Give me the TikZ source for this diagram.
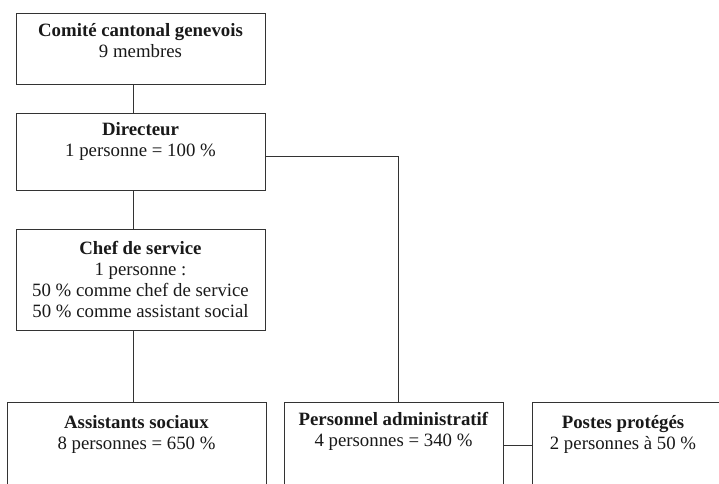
\documentclass[tikz,border=0pt]{standalone}
\usepackage{fontspec}
\setmainfont{Liberation Serif}
\begin{document}
\begin{tikzpicture}[x=1pt,y=-1pt,
  box/.style={draw=black!80, line width=0.9pt, inner sep=0pt, rectangle},
  txt/.style={font=\fontsize{18.8}{21}\selectfont, align=center, text=black!90, inner sep=0pt},
  conn/.style={draw=black!80, line width=0.9pt}]
\useasboundingbox (0,0) rectangle (719,483);
\clip (0,0) rectangle (719,483);
\fill[white] (0,0) rectangle (719,483);

\node[box, minimum width=249, minimum height=71,
  label={[txt, name=comiteT, anchor=north, yshift=-10.5]north:{\textbf{Comité cantonal genevois}\\9 membres}}]
  (comite) at (140.5,48.5) {};
\node[box, minimum width=249, minimum height=77,
  label={[txt, name=directeurT, anchor=north, yshift=-9.5]north:{\textbf{Directeur}\\1 personne = 100 \%}}]
  (directeur) at (140.5,151.5) {};
\node[box, minimum width=249, minimum height=101,
  label={[txt, name=chefT, anchor=north, yshift=-13]north:{\textbf{Chef de service}\\1 personne :\\50 \% comme chef de service\\50 \% comme assistant social}}]
  (chef) at (140.5,279.5) {};
\node[box, minimum width=259, minimum height=108,
  label={[txt, name=assistT, anchor=north, yshift=-13.5]north:{\textbf{Assistants sociaux}\\8 personnes = 650 \%}}]
  (assist) at (136.5,456) {};
\node[box, minimum width=219, minimum height=108,
  label={[txt, name=persT, anchor=north, yshift=-11]north:{\textbf{Personnel administratif}\\4 personnes = 340 \%}}]
  (pers) at (393.5,456) {};
\node[box, minimum width=208, minimum height=108,
  label={[txt, name=postesT, anchor=north, yshift=-13.5, xshift=-13]north:{\textbf{Postes protégés}\\2 personnes à 50 \%}}]
  (postes) at (636,456) {};

\coordinate (spine) at (133,0);
\coordinate (corner) at (398,156);
\coordinate (pp) at (518,445);

\draw[conn] (comite.south -| spine) -- (directeur.north -| spine);
\draw[conn] (directeur.south -| spine) -- (chef.north -| spine);
\draw[conn] (chef.south -| spine) -- (assist.north -| spine);
\draw[conn] (directeur.east |- corner) -- (corner) -- (corner |- pers.north);
\draw[conn] (pp -| pers.east) -- (pp -| postes.west);
\end{tikzpicture}
\end{document}
